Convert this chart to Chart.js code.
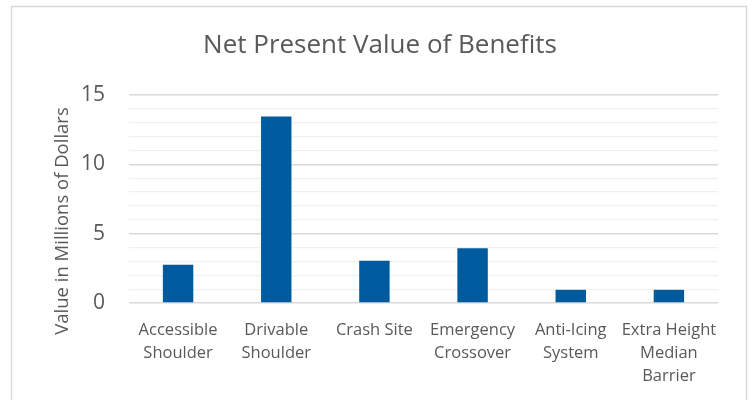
<!DOCTYPE html>
<html>
<head>
<meta charset="utf-8">
<script src="https://cdn.jsdelivr.net/npm/chart.js"></script>
<style>
  html, body { margin: 0; padding: 0; background: #fff; }
  canvas { display: block; }
</style>
</head>
<body>
<canvas id="myChart" width="752" height="400"></canvas>
<script>
// data
const categories = [
  ['Accessible', 'Shoulder'],
  ['Drivable', 'Shoulder'],
  ['Crash Site'],
  ['Emergency', 'Crossover'],
  ['Anti-Icing', 'System'],
  ['Extra Height', 'Median', 'Barrier']
];
const npvMillions = [2.75, 13.45, 3.05, 3.95, 0.95, 0.95];
const gridValues = [0, 1, 2, 3, 4, 5, 6, 7, 8, 9, 10, 11, 12, 13, 14, 15];
const labeledTicks = [0, 5, 10, 15];
const chartTitle = 'Net Present Value of Benefits';
const yTitle = 'Value in Millions of Dollars';

const grey = '#595959';
const font = '"Open Sans", "Noto Sans", sans-serif';

// outer frame, chart title and rotated y title
const frame = {
  id: 'frame',
  afterDraw(chart) {
    const c = chart.ctx;
    c.save();
    c.strokeStyle = '#d9d9d9';
    c.lineWidth = 1.5;
    c.strokeRect(11.5, 6.5, 735, 400);
    c.fillStyle = grey;
    c.textAlign = 'center';
    c.textBaseline = 'middle';
    c.font = '26px ' + font;
    c.fillText(chartTitle, 380, 46);
    c.translate(63, 221);
    c.rotate(-Math.PI / 2);
    c.font = '18.5px ' + font;
    c.fillText(yTitle, 0, 0);
    c.restore();
  }
};

new Chart(document.getElementById('myChart'), {
  type: 'bar',
  data: {
    labels: categories,
    datasets: [{
      data: npvMillions,
      backgroundColor: '#005A9E',
      categoryPercentage: 0.31,
      barPercentage: 1
    }]
  },
  options: {
    responsive: false,
    animation: false,
    layout: { padding: { left: 0, right: 34, top: 95, bottom: 0 } },
    plugins: {
      legend: { display: false },
      tooltip: { enabled: false }
    },
    scales: {
      x: {
        afterFit: s => { s.height = 97; },
        grid: { display: false },
        border: { display: false },
        ticks: {
          color: grey,
          font: { family: font, size: 16.5, lineHeight: '23px' },
          padding: 8,
          maxRotation: 0,
          autoSkip: false
        }
      },
      y: {
        min: 0,
        max: 15,
        afterFit: s => { s.width = 129; },
        afterBuildTicks: s => { s.ticks = gridValues.map(v => ({ value: v })); },
        border: { display: false },
        grid: {
          drawTicks: false,
          color: ctx => labeledTicks.includes(ctx.tick.value) ? '#d9d9d9' : '#f0f0f0',
          lineWidth: ctx => labeledTicks.includes(ctx.tick.value) ? 1.5 : 1.2
        },
        ticks: {
          autoSkip: false,
          color: grey,
          padding: 24,
          font: { family: font, size: 21 },
          callback: v => labeledTicks.includes(v) ? v : ''
        }
      }
    }
  },
  plugins: [frame]
});
</script>
</body>
</html>
